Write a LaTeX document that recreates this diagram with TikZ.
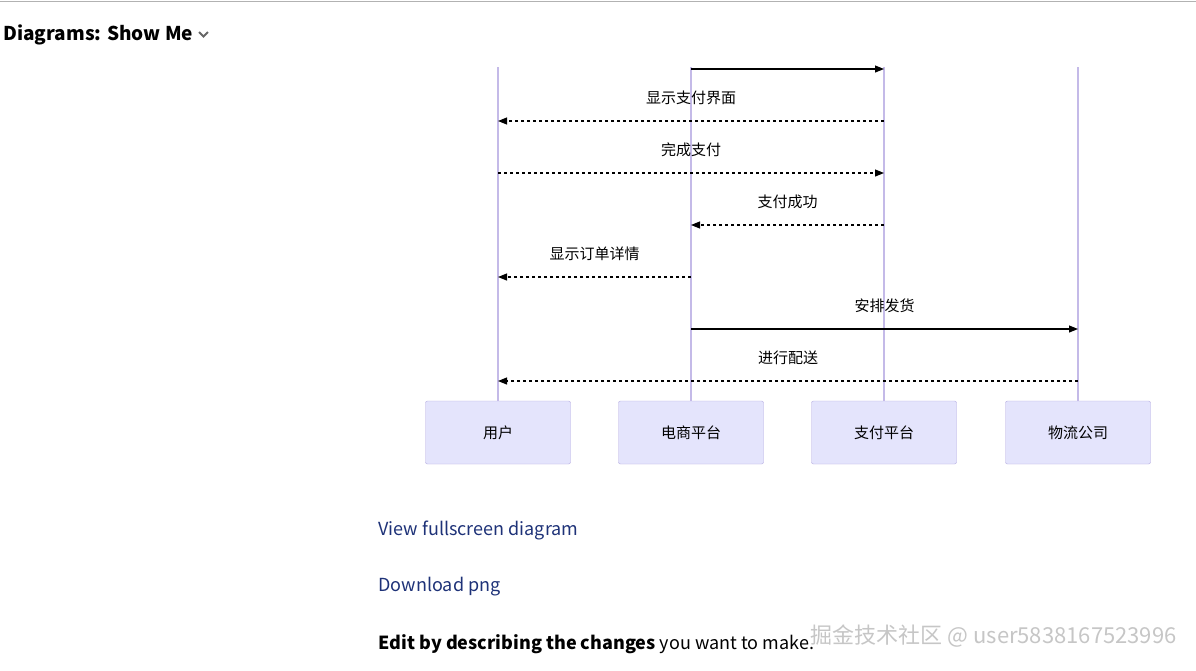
\documentclass[tikz,border=0pt]{standalone}
\usepackage{fontspec}
\setmainfont{Noto Sans CJK SC}
\usetikzlibrary{arrows.meta}
\definecolor{lifeline}{RGB}{196,186,232}
\definecolor{actorfill}{RGB}{228,228,252}
\definecolor{actordraw}{RGB}{180,170,225}
\definecolor{linkblue}{RGB}{30,50,120}
\tikzstyle{actor}=[rectangle,fill=actorfill,draw=actordraw,minimum width=145pt,minimum height=63pt,rounded corners=2pt,font=\fontsize{15}{17}\selectfont]
\tikzstyle{call}=[-{Triangle[length=9pt,width=7pt]},draw=black,line width=1.1pt]
\tikzstyle{reply}=[call,dash pattern=on 3pt off 3pt]
\tikzstyle{msg}=[font=\fontsize{15}{17}\selectfont]
\tikzstyle{life}=[draw=lifeline,line width=1.2pt]

\begin{document}
\begin{tikzpicture}[x=1pt,y=-1pt]
	\useasboundingbox (0,0) rectangle (1196,670);
	\fill[white] (0,0) rectangle (1196,670);
	\draw[gray!60] (0,1) -- (1196,1);
	\node[anchor=west,font=\fontsize{19}{22}\selectfont\bfseries] (title) at (0,35) {Diagrams: Show Me};
	\draw[gray!80!black,line width=1.8pt] (199,32) -- (203.5,36.5) -- (208,32);
	% actors
	\node [style=actor] (user) at (498, 432.5) {用户};
	\node [style=actor] (shop) at (691, 432.5) {电商平台};
	\node [style=actor] (pay) at (884, 432.5) {支付平台};
	\node [style=actor] (ship) at (1078, 432.5) {物流公司};
	% lifelines
	\foreach \a in {user,shop,pay,ship}
		\draw [style=life] (\a.north |- 0,67) coordinate (\a-top) -- (\a.north);
	% messages
	\coordinate (m0a) at (shop |- 0,69); \coordinate (m0b) at (pay |- 0,69);
	\coordinate (m1a) at (pay |- 0,121); \coordinate (m1b) at (user |- 0,121);
	\coordinate (m2a) at (user |- 0,173); \coordinate (m2b) at (pay |- 0,173);
	\coordinate (m3a) at (pay |- 0,225); \coordinate (m3b) at (shop |- 0,225);
	\coordinate (m4a) at (shop |- 0,277); \coordinate (m4b) at (user |- 0,277);
	\coordinate (m5a) at (shop |- 0,329); \coordinate (m5b) at (ship |- 0,329);
	\coordinate (m6a) at (ship |- 0,381); \coordinate (m6b) at (user |- 0,381);
	\draw [style=call] (m0a) to (m0b);
	\draw [style=reply] (m1a) to node[style=msg,above=12pt]{显示支付界面} (m1b);
	\draw [style=reply] (m2a) to node[style=msg,above=12pt]{完成支付} (m2b);
	\draw [style=reply] (m3a) to node[style=msg,above=12pt]{支付成功} (m3b);
	\draw [style=reply] (m4a) to node[style=msg,above=12pt]{显示订单详情} (m4b);
	\draw [style=call] (m5a) to node[style=msg,above=12pt]{安排发货} (m5b);
	\draw [style=reply] (m6a) to node[style=msg,above=12pt]{进行配送} (m6b);
	% links
	\node[anchor=west,text=linkblue,font=\fontsize{18}{21}\selectfont] (full) at (375,530) {View fullscreen diagram};
	\node[anchor=west,text=linkblue,font=\fontsize{18}{21}\selectfont] (png) at (375,587) {Download png};
	\node[anchor=west,font=\fontsize{18}{21}\selectfont] (edit) at (375,644) {\textbf{Edit by describing the changes} you want to make.};
	\node[anchor=east,text=gray!45,font=\fontsize{22}{25}\selectfont] (mark) at (1180,636) {掘金技术社区 @ user5838167523996};
\end{tikzpicture}
\end{document}
